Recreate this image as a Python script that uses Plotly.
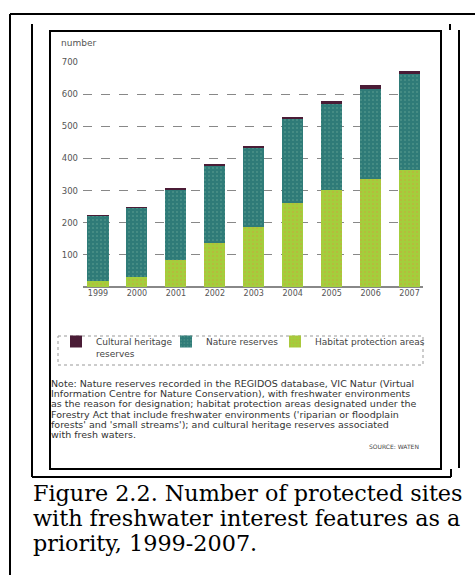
import plotly.graph_objects as go

years = [1999, 2000, 2001, 2002, 2003, 2004, 2005, 2006, 2007]
year_labels = [str(y) for y in years]
habitat = [18, 30, 83, 138, 188, 260, 302, 335, 365]
nature = [203, 216, 220, 240, 245, 263, 267, 280, 297]
cultural = [2, 2, 2, 4, 5, 5, 10, 15, 10]
y_ticks = [100, 200, 300, 400, 500, 600, 700]

note_lines = [
    "Note: Nature reserves recorded in the REGIDOS database, VIC Natur (Virtual",
    "Information Centre for Nature Conservation), with freshwater environments",
    "as the reason for designation; habitat protection areas designated under the",
    "Forestry Act that include freshwater environments ('riparian or floodplain",
    "forests' and 'small streams'); and cultural heritage reserves associated",
    "with fresh waters.",
]
caption_lines = [
    "Figure 2.2. Number of protected sites",
    "with freshwater interest features as a",
    "priority, 1999-2007.",
]

W, H = 475, 575
L, R, T, B = 83, 52, 62, 288
PW = W - L - R
PH = H - T - B


def px(x):
    return (x - L) / PW


def py(y):
    return (T + PH - y) / PH


fig = go.Figure()
fig.add_bar(x=years, y=habitat, name="Habitat protection areas", legend="legend3",
            marker=dict(color="#a4ce3c", line=dict(width=0),
                        pattern=dict(shape=".", fgcolor="#d0a040", size=4, solidity=0.2)))
fig.add_bar(x=years, y=nature, name="Nature reserves", legend="legend2",
            marker=dict(color="#2f7b78", line=dict(width=0),
                        pattern=dict(shape=".", fgcolor="#6aa897", size=4, solidity=0.2)))
fig.add_bar(x=years, y=cultural, name="Cultural heritage", legend="legend",
            marker=dict(color="#4a1c36", line=dict(width=0)))

shapes = []


def line(x0, y0, x1, y1, w=2, color="black", dash="solid"):
    shapes.append(dict(type="line", xref="paper", yref="paper",
                       x0=px(x0), y0=py(y0), x1=px(x1), y1=py(y1),
                       line=dict(color=color, width=w, dash=dash)))


# outer frame
line(10, 14, 475, 14)
line(10, 14, 10, 575)
# second frame
line(32, 24, 32, 477)
line(32, 477, 451, 477)
line(451, 469, 451, 477)
line(450, 24, 450, 30)
line(459, 30, 459, 468)
# inner chart box
shapes.append(dict(type="rect", xref="paper", yref="paper",
                   x0=px(50), y0=py(31), x1=px(441), y1=py(469),
                   line=dict(color="black", width=2)))
# legend dotted box
shapes.append(dict(type="rect", xref="paper", yref="paper",
                   x0=px(58), y0=py(336), x1=px(423), y1=py(365),
                   line=dict(color="#999999", width=1, dash="dot")))

SANS = "DejaVu Sans"
annotations = []
annotations.append(dict(xref="paper", yref="paper", x=px(59), y=py(43), text="number",
                        showarrow=False, xanchor="left", yanchor="middle",
                        font=dict(size=9, color="#555555", family=SANS)))
annotations.append(dict(xref="paper", yref="paper", x=px(94), y=py(354), text="reserves",
                        showarrow=False, xanchor="left", yanchor="middle",
                        font=dict(size=9, color="#444444", family=SANS)))
for i, t in enumerate(note_lines):
    annotations.append(dict(xref="paper", yref="paper", x=px(49), y=py(383.5 + 10.2 * i), text=t,
                            showarrow=False, xanchor="left", yanchor="middle",
                            font=dict(size=9.5, color="#333333", family=SANS)))
annotations.append(dict(xref="paper", yref="paper", x=px(421), y=py(446), text="SOURCE: WATEN",
                        showarrow=False, xanchor="right", yanchor="middle",
                        font=dict(size=6, color="#444444", family=SANS)))
for i, t in enumerate(caption_lines):
    annotations.append(dict(xref="paper", yref="paper", x=px(31), y=py(493 + 25 * i), text=t,
                            showarrow=False, xanchor="left", yanchor="middle",
                            font=dict(size=22.3, color="black", family="DejaVu Serif")))


def leg(xpix):
    return dict(orientation="h", x=px(xpix), y=py(327), xanchor="left", yanchor="top",
                bgcolor="rgba(0,0,0,0)", itemwidth=30,
                font=dict(size=9, color="#444444", family=SANS))


fig.update_layout(
    width=W, height=H,
    margin=dict(l=L, r=R, t=T, b=B),
    paper_bgcolor="white", plot_bgcolor="white",
    barmode="stack", bargap=0.46,
    showlegend=True,
    legend=leg(56),
    legend2=leg(166),
    legend3=leg(275),
    shapes=shapes,
    annotations=annotations,
    xaxis=dict(range=[1998.615, 2007.346], tickvals=years, ticktext=year_labels,
               showgrid=False, zeroline=False, showline=False, ticks="",
               tickfont=dict(size=8, color="#555555", family=SANS)),
    yaxis=dict(range=[0, 700], tickvals=y_ticks, showgrid=True, gridcolor="#888888",
               griddash="dash", gridwidth=1, zeroline=True, zerolinecolor="#888888",
               zerolinewidth=1.5, showline=False, ticks="", ticklabelstandoff=4,
               tickfont=dict(size=8.5, color="#555555", family=SANS)),
)

fig.write_html("out.html", config={"displayModeBar": False},
               post_script="document.body.style.margin='0';")
